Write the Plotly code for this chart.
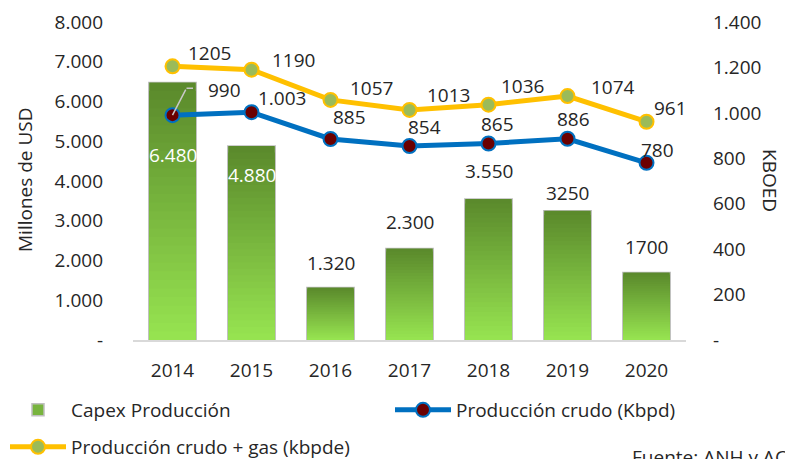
import plotly.graph_objects as go

years = ["2014", "2015", "2016", "2017", "2018", "2019", "2020"]
capex = [6480, 4880, 1320, 2300, 3550, 3250, 1700]
capex_labels = ["6.480", "4.880", "1.320", "2.300", "3.550", "3250", "1700"]
crudo = [990, 1003, 885, 854, 865, 886, 780]
crudo_labels = ["990", "1.003", "885", "854", "865", "886", "780"]
total = [1205, 1190, 1057, 1013, 1036, 1074, 961]
total_labels = ["1205", "1190", "1057", "1013", "1036", "1074", "961"]
left_tickvals = [0, 1000, 2000, 3000, 4000, 5000, 6000, 7000, 8000]
left_ticktext = ["-", "1.000", "2.000", "3.000", "4.000", "5.000", "6.000", "7.000", "8.000"]
right_tickvals = [0, 200, 400, 600, 800, 1000, 1200, 1400]
right_ticktext = ["-", "200", "400", "600", "800", "1.000", "1.200", "1.400"]

FONT = "Open Sans"
FS = 19
TXT = "#262626"
BAR_W = 0.6
W, H = 793, 459
OFF = 8  # page body margin
PL, PR, PT, PB = 133, 686, 22, 340  # plot area in page pixels


def px_x(page_x):
    return (page_x - PL) / (PR - PL)


def px_y(page_y):
    return (PB - page_y) / (PB - PT)


fig = go.Figure()

fig.add_trace(go.Bar(x=years, y=capex, name="Capex Producción", width=BAR_W,
                     marker=dict(color="#78B43E", line=dict(color="#BFBFBF", width=1.5)),
                     legend="legend", hoverinfo="skip"))

top_rgb = (0x5B, 0x8A, 0x2C)
bot_rgb = (0x96, 0xE3, 0x50)
N = 30
for k in range(N):
    t = k / (N - 1)
    c = tuple(round(top_rgb[i] + (bot_rgb[i] - top_rgb[i]) * t) for i in range(3))
    frac = 1 - k / N
    fig.add_trace(go.Bar(x=years, y=[v * frac for v in capex], width=BAR_W - 0.012,
                         marker=dict(color="rgb(%d,%d,%d)" % c, line=dict(width=0)),
                         showlegend=False, hoverinfo="skip"))

fig.add_trace(go.Scatter(x=years, y=crudo, yaxis="y2", name="Producción crudo (Kbpd)",
                         mode="lines+markers",
                         line=dict(color="#0070C0", width=5),
                         marker=dict(size=14, color="#6B0000", line=dict(color="#0070C0", width=2)),
                         legend="legend3"))
fig.add_trace(go.Scatter(x=years, y=total, yaxis="y2", name="Producción crudo + gas (kbpde)",
                         mode="lines+markers",
                         line=dict(color="#FFC000", width=5),
                         marker=dict(size=14, color="#9BBB59", line=dict(color="#FFC000", width=2)),
                         legend="legend2"))

ann = []
bar_shift = [-73, -29, 25, 27, 28, 18, 25]
bar_color = ["white", "white", TXT, TXT, TXT, TXT, TXT]
for i, (v, s, dy, col) in enumerate(zip(capex, capex_labels, bar_shift, bar_color)):
    ann.append(dict(x=i, y=v, xref="x", yref="y", text=s, showarrow=False, yshift=dy,
                    xanchor="center", yanchor="middle", font=dict(family=FONT, size=FS, color=col)))

tot_shift = [(37, 13), (42, 10), (41, 12), (39, 15), (34, 19), (45, 9), (24, 14)]
for i, (v, s, (dx, dy)) in enumerate(zip(total, total_labels, tot_shift)):
    ann.append(dict(x=i, y=v, xref="x", yref="y2", text=s, showarrow=False, xshift=dx, yshift=dy,
                    xanchor="center", yanchor="middle", font=dict(family=FONT, size=FS, color=TXT)))
cru_shift = [(52, 25), (30, 14), (19, 22), (15, 19), (9, 20), (6, 20), (11, 13)]
for i, (v, s, (dx, dy)) in enumerate(zip(crudo, crudo_labels, cru_shift)):
    ann.append(dict(x=i, y=v, xref="x", yref="y2", text=s, showarrow=False, xshift=dx, yshift=dy,
                    xanchor="center", yanchor="middle", font=dict(family=FONT, size=FS, color=TXT)))

# leader line for 990 label
ann.append(dict(x=0, y=crudo[0], xref="x", yref="y2", text="", showarrow=True,
                ax=14, ay=-27, arrowhead=0, arrowwidth=1.5, arrowcolor="#C8C8C8", standoff=0))
ann.append(dict(x=0, y=crudo[0], xref="x", yref="y2", text="", showarrow=True,
                xshift=14, yshift=27, ax=8, ay=0, arrowhead=0, arrowwidth=1.5,
                arrowcolor="#C8C8C8", standoff=0))

# axis titles and source
ann.append(dict(xref="paper", yref="paper", x=px_x(25), y=px_y(180),
                xanchor="center", yanchor="middle",
                text="Millones de USD", showarrow=False, textangle=-90,
                font=dict(family=FONT, size=FS, color=TXT)))
ann.append(dict(xref="paper", yref="paper", x=px_x(770), y=px_y(180),
                xanchor="center", yanchor="middle",
                text="KBOED", showarrow=False, textangle=90,
                font=dict(family=FONT, size=FS, color=TXT)))
ann.append(dict(xref="paper", yref="paper", x=px_x(630), y=px_y(442),
                xanchor="left", yanchor="top", text="Fuente: ANH y ACP", showarrow=False,
                font=dict(family=FONT, size=FS, color=TXT)))

leg_common = dict(orientation="h", xref="paper", yref="paper", xanchor="left",
                  yanchor="middle", itemwidth=56,
                  font=dict(family=FONT, size=FS, color=TXT), bgcolor="rgba(0,0,0,0)")

fig.update_layout(
    width=W, height=H,
    margin=dict(l=PL - OFF, r=W - (PR - OFF), t=PT - OFF, b=H - (PB - OFF), autoexpand=False),
    paper_bgcolor="white", plot_bgcolor="white",
    barmode="overlay",
    font=dict(family=FONT, size=FS, color=TXT),
    xaxis=dict(type="category", showgrid=False, showline=True, linecolor="#D9D9D9", linewidth=2,
               ticks="", ticklabelstandoff=12, tickfont=dict(size=FS, color=TXT),
               range=[-0.5, 6.5]),
    yaxis=dict(range=[0, 8000], tickvals=left_tickvals, ticktext=left_ticktext, showgrid=False,
               zeroline=False, showline=False, ticks="", ticklabelstandoff=29,
               tickfont=dict(size=FS, color=TXT)),
    yaxis2=dict(range=[0, 1400], tickvals=right_tickvals, ticktext=right_ticktext, overlaying="y",
                side="right", showgrid=False, zeroline=False, showline=False, ticks="",
                ticklabelstandoff=26, tickfont=dict(size=FS, color=TXT)),
    legend=dict(leg_common, x=px_x(5), y=px_y(410)),
    legend3=dict(leg_common, x=px_x(390), y=px_y(410)),
    legend2=dict(leg_common, x=px_x(5), y=px_y(447)),
    annotations=ann,
    showlegend=True,
)

fig.write_html("out.html")
